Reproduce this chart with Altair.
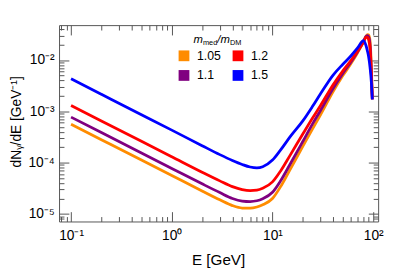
import altair as alt
import pandas as pd

# photon energy grid [GeV]
energy = [0.1, 0.2, 0.5, 1, 2, 3, 4, 5, 6, 7, 8, 10, 12, 15, 20, 25, 30, 40,
          50, 60, 70, 80, 85, 88, 90, 93, 96, 98]

# dN/dE [GeV^-1] for each m_med/m_DM ratio
flux_105 = [5.6e-4, 2.8e-4, 1.12e-4, 5.6e-5, 2.8e-5, 1.88e-5, 1.45e-5, 1.3e-5,
            1.29e-5, 1.36e-5, 1.5e-5, 1.99e-5, 3.36e-5, 7.4e-5, 2.07e-4, 4.55e-4,
            8.55e-4, 2.42e-3, 4.97e-3, 8.47e-3, 1.39e-2, 2.25e-2, 2.95e-2, 3.12e-2,
            3.1e-2, 2.4e-2, 7.0e-3, 1.9e-3]
flux_11 = [7.7e-4, 3.85e-4, 1.54e-4, 7.7e-5, 3.85e-5, 2.6e-5, 2.0e-5, 1.78e-5,
           1.74e-5, 1.8e-5, 1.97e-5, 2.64e-5, 4.37e-5, 9.4e-5, 2.58e-4, 5.68e-4,
           1.04e-3, 2.79e-3, 5.5e-3, 9.06e-3, 1.45e-2, 2.3e-2, 2.9e-2, 2.98e-2,
           2.85e-2, 2.0e-2, 5.5e-3, 1.75e-3]
flux_12 = [1.3e-3, 6.5e-4, 2.6e-4, 1.3e-4, 6.5e-5, 4.4e-5, 3.4e-5, 2.98e-5,
           2.85e-5, 2.9e-5, 3.15e-5, 4.2e-5, 6.8e-5, 1.4e-4, 3.6e-4, 7.4e-4,
           1.3e-3, 3.3e-3, 6.2e-3, 9.8e-3, 1.5e-2, 2.25e-2, 2.8e-2, 2.75e-2,
           2.5e-2, 1.7e-2, 4.8e-3, 1.7e-3]
flux_15 = [4.3e-3, 2.15e-3, 8.6e-4, 4.3e-4, 2.14e-4, 1.43e-4, 1.1e-4, 9.2e-5,
           8.2e-5, 7.9e-5, 8.3e-5, 1.12e-4, 1.75e-4, 3.2e-4, 6.5e-4, 1.25e-3,
           2.2e-3, 5.1e-3, 8.3e-3, 1.2e-2, 1.72e-2, 2.4e-2, 1.9e-2, 1.45e-2,
           1.17e-2, 7.2e-3, 3.6e-3, 1.7e-3]

ratios = ["1.05", "1.1", "1.2", "1.5"]
legend_order = ["1.05", "1.2", "1.1", "1.5"]
legend_colors = ["#ff8c00", "#ff0000", "#800080", "#0000ff"]

x_major = [0.1, 1, 10, 100]
x_minor = [0.08, 0.09, 0.2, 0.3, 0.4, 0.5, 0.6, 0.7, 0.8, 0.9,
           2, 3, 4, 5, 6, 7, 8, 9, 20, 30, 40, 50, 60, 70, 80, 90]
y_major = [1e-5, 1e-4, 1e-3, 1e-2]
y_minor = [8e-6, 9e-6,
           2e-5, 3e-5, 4e-5, 5e-5, 6e-5, 7e-5, 8e-5, 9e-5,
           2e-4, 3e-4, 4e-4, 5e-4, 6e-4, 7e-4, 8e-4, 9e-4,
           2e-3, 3e-3, 4e-3, 5e-3, 6e-3, 7e-3, 8e-3, 9e-3,
           2e-2, 3e-2, 4e-2]

rows = []
for lab, vals in zip(ratios, [flux_105, flux_11, flux_12, flux_15]):
    for e, v in zip(energy, vals):
        rows.append({"E": e, "dNdE": v, "ratio": lab})
df = pd.DataFrame(rows)

FRAME = "#555555"
FONT = "Liberation Sans"
MAJ = 10
MIN = 5

xscale = alt.Scale(type="log", domain=[0.076, 112], nice=False)
yscale = alt.Scale(type="log", domain=[7.1e-6, 0.048], nice=False)

x_label_expr = ("datum.value < 0.5 ? '10⁻¹' : datum.value < 5 ? '10⁰' : "
                "datum.value < 50 ? '10¹' : '10²'")
y_label_expr = ("datum.value > 0.005 ? '10⁻²' : datum.value > 0.0005 ? '10⁻³' : "
                "datum.value > 0.00005 ? '10⁻⁴' : '10⁻⁵'")


def tick_axis(orient, values, size):
    return alt.Axis(orient=orient, values=values, tickSize=size, offset=-size,
                    domain=False, grid=False, labels=False, title=None,
                    tickColor=FRAME, tickWidth=1)


x_bottom = alt.Axis(orient="bottom", values=x_major, tickSize=MAJ, offset=-MAJ,
                    domain=False, grid=False, tickColor=FRAME, tickWidth=1,
                    labelExpr=x_label_expr, labelPadding=7, title="E [GeV]",
                    titleFontSize=15.5,
                    titleX=162, titleY=49, titleBaseline="middle")
y_left = alt.Axis(orient="left", values=y_major, tickSize=MAJ, offset=-MAJ,
                  domain=False, grid=False, tickColor=FRAME, tickWidth=1,
                  labelExpr=y_label_expr, labelPadding=5,
                  title="dNᵧ/dE [GeV⁻¹]", titleFontSize=14,
                  titleX=-53, titleY=98, titleBaseline="middle")

base = alt.Chart(df)

lines = base.mark_line(strokeWidth=2.8, interpolate="monotone").encode(
    x=alt.X("E:Q", scale=xscale, axis=x_bottom),
    y=alt.Y("dNdE:Q", scale=yscale, axis=y_left),
    color=alt.Color(
        "ratio:N",
        scale=alt.Scale(domain=legend_order, range=legend_colors),
        legend=alt.Legend(orient="none", legendX=121, legendY=25, columns=2,
                          direction="horizontal", gridAlign="all",
                          symbolType="square", symbolSize=30,
                          symbolStrokeWidth=5.5, title=None, padding=0,
                          rowPadding=-21, columnPadding=3, labelOffset=7,
                          labelFontSize=12.5, labelFont=FONT,
                          labelColor="black"),
    ),
)

ghost = base.mark_point(opacity=0)
l_minor = ghost.encode(
    x=alt.X("E:Q", scale=xscale, axis=tick_axis("bottom", x_minor, MIN)),
    y=alt.Y("dNdE:Q", scale=yscale, axis=tick_axis("left", y_minor, MIN)),
)
l_top_major = ghost.encode(
    x=alt.X("E:Q", scale=xscale, axis=tick_axis("top", x_major, MAJ)),
    y=alt.Y("dNdE:Q", scale=yscale, axis=tick_axis("right", y_major, MAJ)),
)
l_top_minor = ghost.encode(
    x=alt.X("E:Q", scale=xscale, axis=tick_axis("top", x_minor, MIN)),
    y=alt.Y("dNdE:Q", scale=yscale, axis=tick_axis("right", y_minor, MIN)),
)

one = alt.Data(values=[{"k": 0}])


def piece(txt, x, y, size, italic):
    return alt.Chart(one).mark_text(
        text=txt, align="left", baseline="alphabetic", font=FONT,
        fontSize=size, fontStyle="italic" if italic else "normal",
        color="black",
    ).encode(x=alt.value(x), y=alt.value(y))


title_parts = [
    piece("m", 137, 18, 11.5, True),
    piece("med", 146.6, 20.5, 7.5, False),
    piece("/", 161.2, 18, 11.5, True),
    piece("m", 164.4, 18, 11.5, True),
    piece("DM", 174, 20.5, 7.5, False),
]

chart = alt.layer(lines, l_minor, l_top_major, l_top_minor, *title_parts).resolve_axis(
    x="independent", y="independent"
).properties(
    width=325, height=200,
    autosize=alt.AutoSizeParams(type="none"),
    padding={"left": 52, "top": 15, "right": 8, "bottom": 49},
).configure_view(
    stroke=FRAME, strokeWidth=1
).configure_axis(
    labelFont=FONT, labelFontSize=14, labelColor="black",
    titleFont=FONT, titleFontSize=15, titleFontWeight="normal",
    titleColor="black",
)

chart.save("out.html", embed_options={"renderer": "svg", "actions": False})
